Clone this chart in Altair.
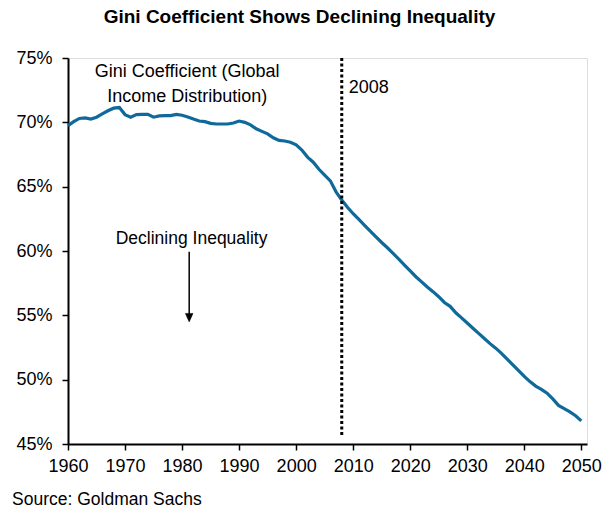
import altair as alt
import pandas as pd

# Global Gini coefficient (income distribution), % — history and projection
years = list(range(1960, 2051))
gini = [
    69.75, 70.05, 70.30, 70.35, 70.25, 70.40, 70.65, 70.90, 71.10, 71.15,  # 1960s
    70.60, 70.40, 70.60, 70.62, 70.62, 70.40, 70.50, 70.52, 70.52, 70.62,  # 1970s
    70.55, 70.42, 70.25, 70.10, 70.05, 69.92, 69.87, 69.87, 69.87, 69.95,  # 1980s
    70.10, 70.00, 69.80, 69.50, 69.30, 69.10, 68.80, 68.60, 68.55, 68.45,  # 1990s
    68.25, 67.85, 67.30, 66.90, 66.35, 65.90, 65.45, 64.60, 63.96, 63.40,  # 2000s
    62.90, 62.45, 62.00, 61.55, 61.10, 60.66, 60.25, 59.82, 59.37, 58.90,  # 2010s
    58.45, 58.00, 57.60, 57.20, 56.84, 56.45, 56.00, 55.70, 55.20, 54.80,  # 2020s
    54.40, 54.00, 53.60, 53.20, 52.80, 52.45, 52.05, 51.60, 51.15, 50.70,  # 2030s
    50.25, 49.85, 49.50, 49.25, 48.95, 48.50, 48.00, 47.75, 47.50, 47.20,  # 2040s
    46.80,                                                                 # 2050
]

year_ticks = list(range(1960, 2051, 10))
pct_ticks = [45, 50, 55, 60, 65, 70, 75]

event_year = 2008
event_label = "2008"

series_label = ["Gini Coefficient (Global", "Income Distribution)"]
trend_label = "Declining Inequality"

FONT = "Liberation Sans, Arial, Helvetica, sans-serif"
INK = "#000000"
BLUE = "#0f6a9b"

PLOT_W, PLOT_H = 519, 386

x_scale = alt.Scale(domain=[1960, 2051], nice=False, zero=False)
y_scale = alt.Scale(domain=[45, 75], nice=False, zero=False)

axis_style = dict(
    title=None, grid=False, domainColor=INK, domainWidth=2, tickColor=INK,
    tickWidth=1.5, tickSize=6, labelFont=FONT, labelFontSize=18, labelColor=INK,
)


def x_enc(field="year"):
    return alt.X(f"{field}:Q", scale=x_scale,
                 axis=alt.Axis(values=year_ticks, format="d", labelPadding=7,
                               labelFlush=False, labelOverlap=False, **axis_style))


def y_enc(field="gini"):
    return alt.Y(f"{field}:Q", scale=y_scale,
                 axis=alt.Axis(values=pct_ticks, labelExpr="datum.value + '%'",
                               labelPadding=10, labelFlush=False,
                               labelOverlap=False, **axis_style))


series = pd.DataFrame({"year": years, "gini": gini})

line = alt.Chart(series).mark_line(color=BLUE, strokeWidth=3.2).encode(
    x=x_enc(), y=y_enc()
)

# dotted marker for the 2008 break
event = pd.DataFrame({"year": [event_year], "gini": [75.0], "gini_end": [45.5]})
event_rule = alt.Chart(event).mark_rule(
    color=INK, strokeWidth=3, strokeDash=[3, 2.5]
).encode(x=x_enc(), y=y_enc(), y2="gini_end:Q")

event_text = alt.Chart(
    pd.DataFrame({"year": [event_year], "gini": [72.26], "label": [event_label]})
).mark_text(
    align="left", baseline="alphabetic", dx=7, font=FONT, fontSize=18, color=INK
).encode(x=x_enc(), y=y_enc(), text="label:N")

# series caption, two lines
caption = alt.Chart(
    pd.DataFrame({"year": [1980.9, 1980.9], "gini": [73.55, 71.6],
                  "label": series_label})
).mark_text(
    align="center", baseline="alphabetic", font=FONT, fontSize=18, color=INK
).encode(x=x_enc(), y=y_enc(), text="label:N")

# "Declining Inequality" with a downward arrow
trend_text = alt.Chart(
    pd.DataFrame({"year": [1981.67], "gini": [60.55], "label": [trend_label]})
).mark_text(
    align="center", baseline="alphabetic", font=FONT, fontSize=17.5, color=INK
).encode(x=x_enc(), y=y_enc(), text="label:N")

arrow_df = pd.DataFrame({"year": [1981.25], "gini": [59.95], "gini_end": [55.0]})
arrow_shaft = alt.Chart(arrow_df).mark_rule(color=INK, strokeWidth=1.5).encode(
    x=x_enc(), y=y_enc(), y2="gini_end:Q"
)
arrow_head = alt.Chart(
    pd.DataFrame({"year": [1981.25], "gini": [54.82]})
).mark_point(
    shape="M-0.9,-1L0.9,-1L0,1Z", size=72, filled=True, fill=INK,
    stroke=INK, strokeWidth=0.5, opacity=1
).encode(x=x_enc(), y=y_enc())

source = alt.Chart(pd.DataFrame({"label": ["Source: Goldman Sachs"]})).mark_text(
    align="left", baseline="alphabetic", font=FONT, fontSize=17.5, color=INK
).encode(x=alt.value(-56), y=alt.value(447), text="label:N")

chart = alt.layer(
    line, event_rule, event_text, caption, trend_text, arrow_shaft, arrow_head, source
).properties(
    width=PLOT_W,
    height=PLOT_H,
    title=alt.TitleParams(
        "Gini Coefficient Shows Declining Inequality",
        font=FONT, fontSize=19, fontWeight="bold", color=INK,
        anchor="middle", frame="group", dx=-28, offset=7, baseline="alphabetic",
    ),
    autosize=alt.AutoSizeParams(type="none"),
    padding={"left": 68, "top": 58, "right": 22, "bottom": 64},
).configure_view(
    stroke=INK, strokeWidth=2
).configure(background="white")

chart.save("out.html", embed_options={"renderer": "svg", "actions": False})
